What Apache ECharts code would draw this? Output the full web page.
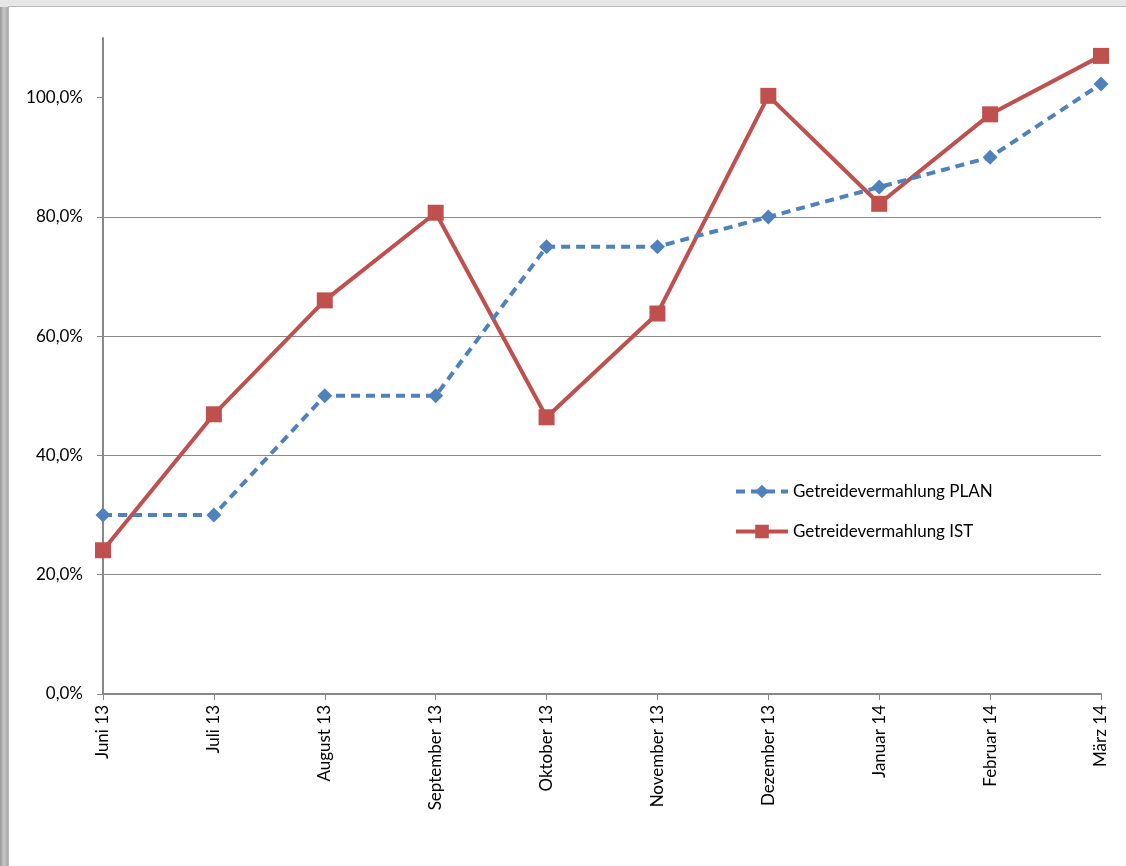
<!DOCTYPE html>
<html><head><meta charset="utf-8">
<script src="https://cdn.jsdelivr.net/npm/echarts@6/dist/echarts.min.js"></script>
<style>
html,body{margin:0;padding:0;width:1126px;height:866px;overflow:hidden;
background:linear-gradient(90deg,#9a9a9a 0px,#c8c8c8 4px,#a8a8a8 8px);}
#top{position:absolute;left:0;top:0;width:1126px;height:7px;background:#e6e6e6;}
#panel{position:absolute;left:8px;top:6px;width:1130px;height:870px;background:#fff;border:1px solid #b8b8b8;}
#chart{position:absolute;left:0;top:0;width:1126px;height:866px;}
</style></head>
<body><div id="top"></div><div id="panel"></div><div id="chart"></div>
<script>
const categories = ['Juni 13','Juli 13','August 13','September 13','Oktober 13','November 13','Dezember 13','Januar 14','Februar 14','März 14'];
const planValues = [30, 30, 50, 50, 75, 75, 80, 85, 90, 102.3];
const istValues = [24.1, 46.9, 66.0, 80.7, 46.4, 63.8, 100.3, 82.2, 97.2, 107.0];
const yTicks = [0, 20, 40, 60, 80, 100];

const font = 'Lato, "Open Sans", sans-serif';
const blue = '#4f81bd', red = '#c0504d';
const chart = echarts.init(document.getElementById('chart'), null, {renderer:'canvas'});
chart.setOption({
  backgroundColor: 'transparent',
  animation: false,
  textStyle: {fontFamily: font},
  grid: {left: 103, right: 25, top: 38, bottom: 172, containLabel: false},
  legend: {
    orient: 'vertical', left: 729, top: 478, itemGap: 23, itemWidth: 52, itemHeight: 17,
    textStyle: {fontFamily: font, fontSize: 17, color: '#000'},
    data: [
      {name: 'Getreidevermahlung PLAN', lineStyle: {width: 4}},
      {name: 'Getreidevermahlung IST', lineStyle: {width: 4}}
    ]
  },
  xAxis: {
    type: 'category', data: categories, boundaryGap: false,
    axisLine: {lineStyle: {color: '#888', width: 2}},
    axisTick: {show: true, alignWithLabel: true, length: 6, lineStyle: {color: '#888', width: 1}},
    axisLabel: {rotate: 90, margin: 11, fontSize: 17, color: '#000', fontFamily: font, interval: 0},
    splitLine: {show: false}
  },
  yAxis: {
    type: 'value', min: 0, max: 110, interval: 20,
    axisLine: {show: true, lineStyle: {color: '#888', width: 2}},
    axisTick: {show: true, length: 6, lineStyle: {color: '#888'}, customValues: yTicks},
    axisLabel: {fontSize: 17, color: '#000', margin: 20, fontFamily: font, customValues: yTicks,
      formatter: v => v > 100 ? '' : v.toFixed(1).replace('.', ',') + '%'},
    splitLine: {show: true, showMaxLine: false, lineStyle: {color: '#888', width: 1}}
  },
  series: [
    {
      name: 'Getreidevermahlung PLAN', type: 'line', data: planValues,
      symbol: 'diamond', symbolSize: 15, z: 3,
      lineStyle: {color: blue, width: 4, type: [9, 6]},
      itemStyle: {color: blue}
    },
    {
      name: 'Getreidevermahlung IST', type: 'line', data: istValues,
      symbol: 'rect', symbolSize: 16, z: 2,
      lineStyle: {color: red, width: 4},
      itemStyle: {color: red}
    }
  ]
});
</script></body></html>
